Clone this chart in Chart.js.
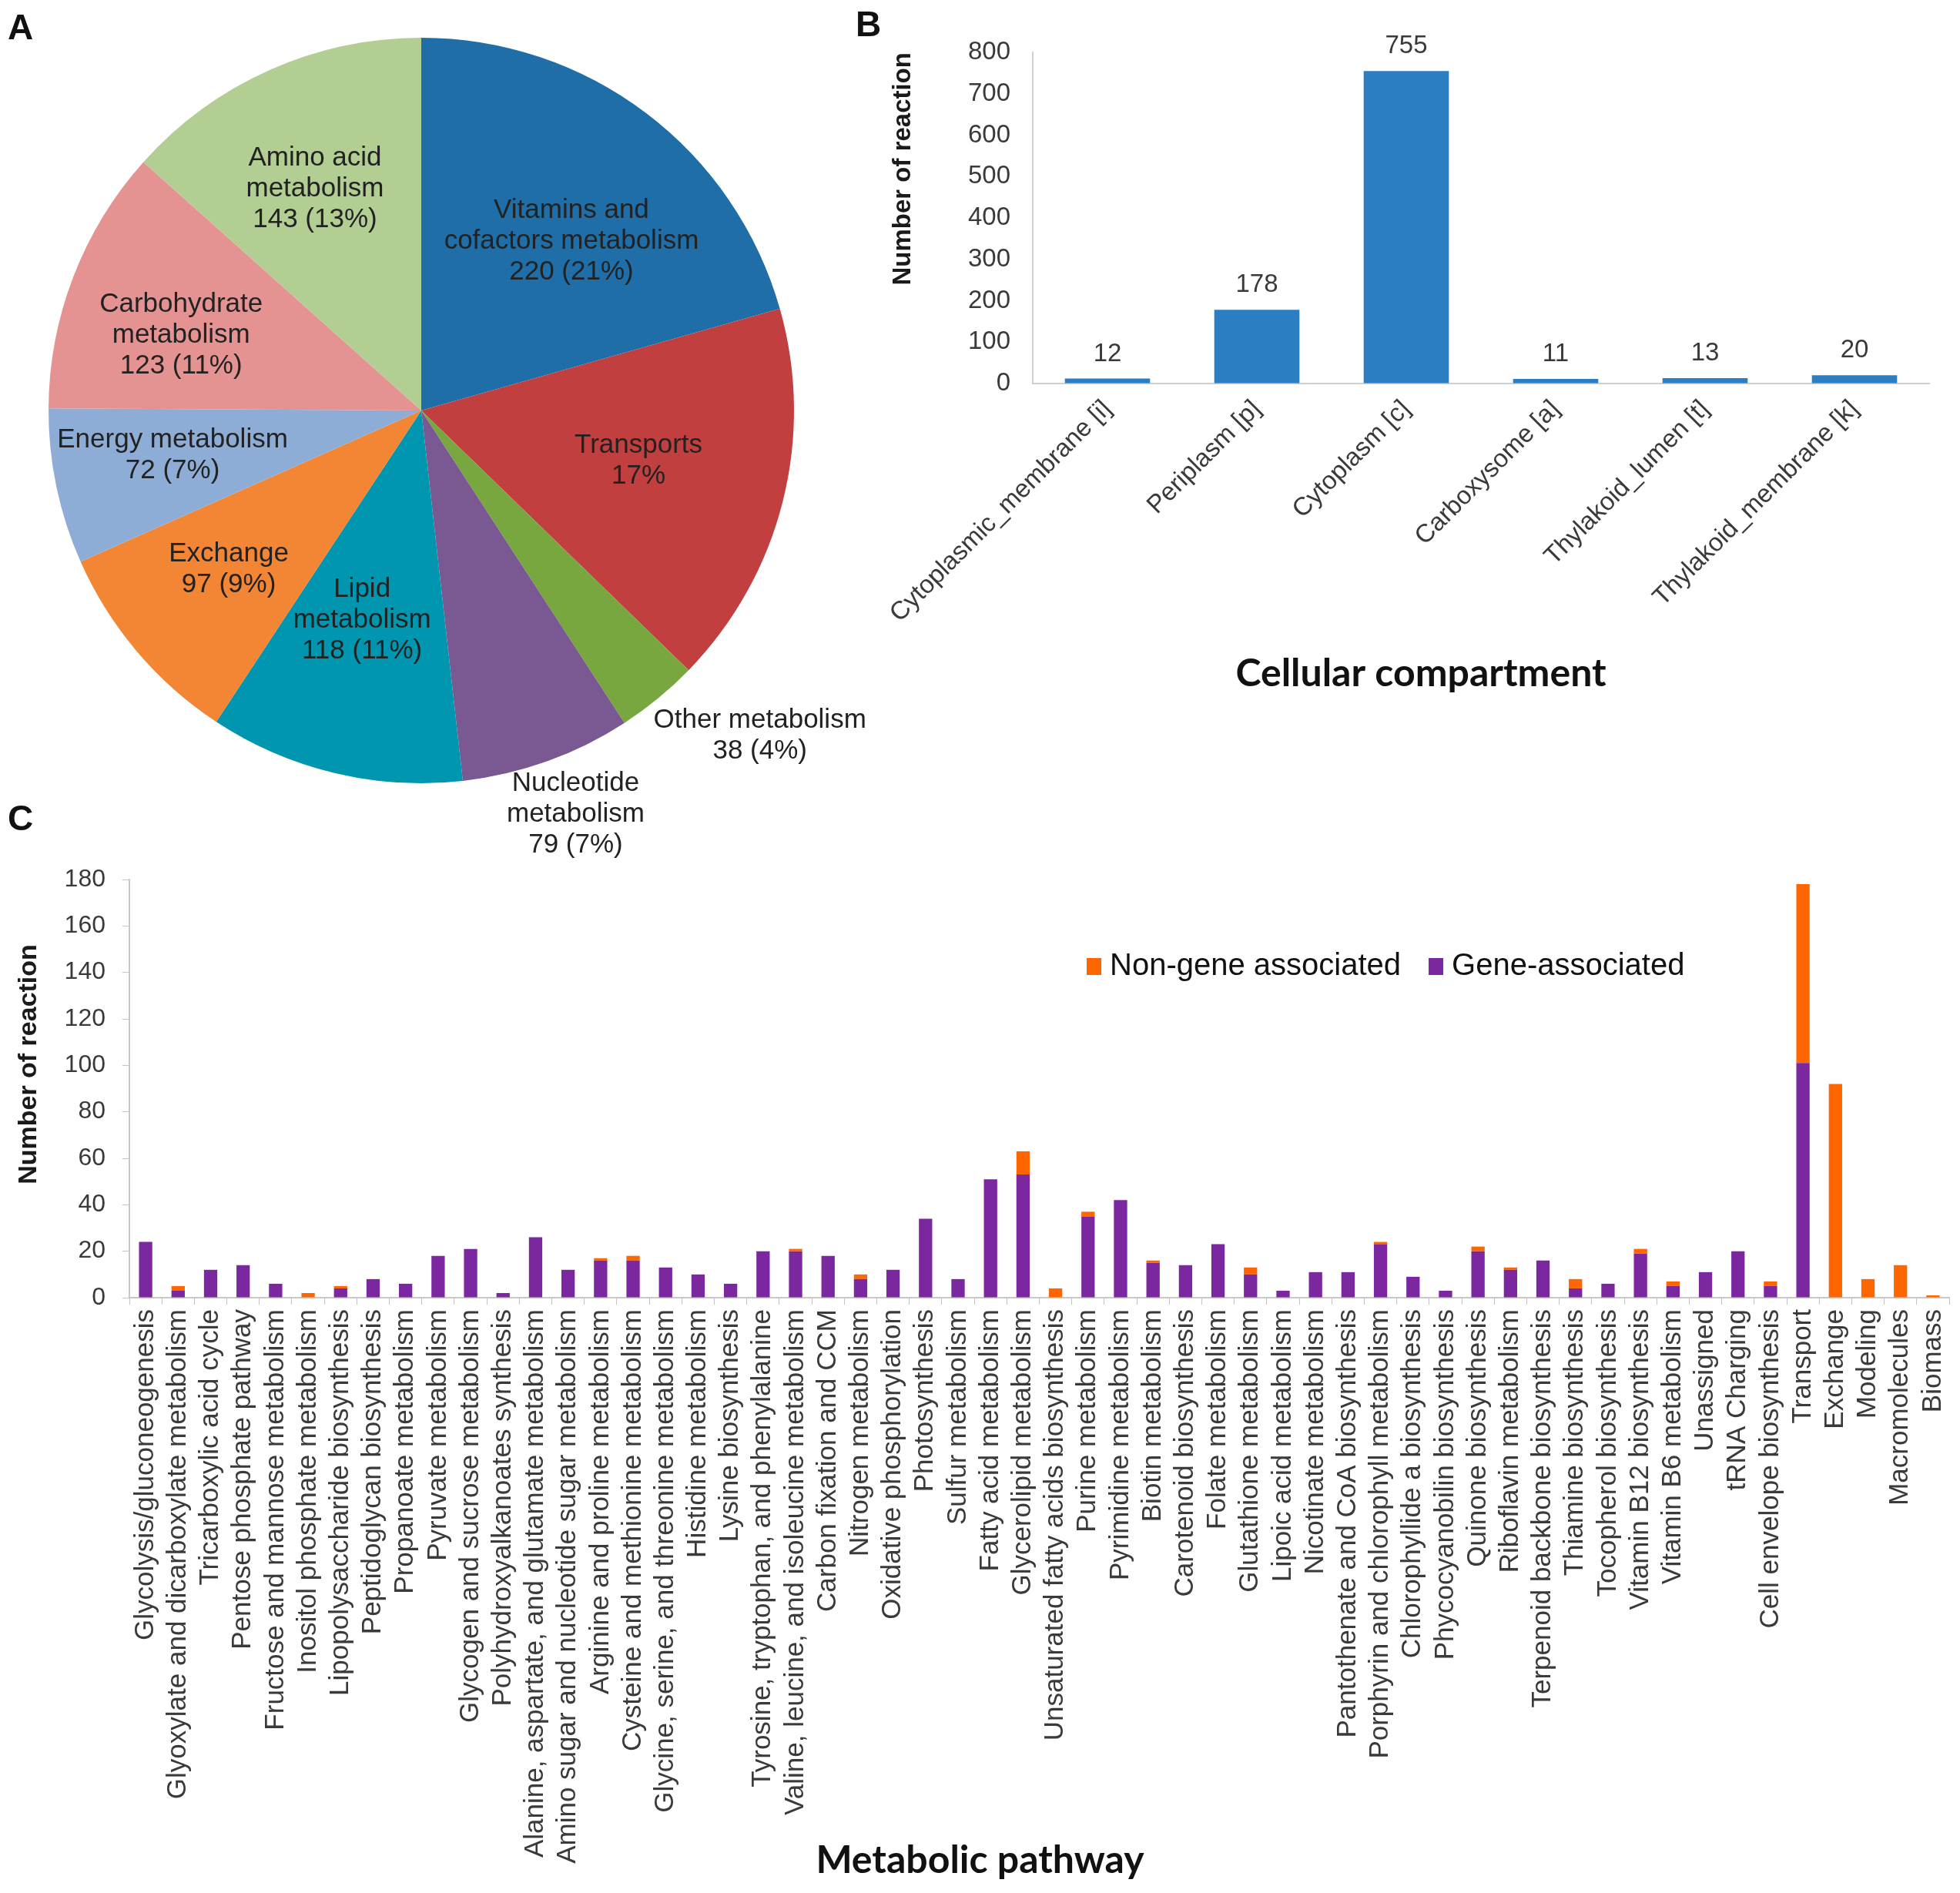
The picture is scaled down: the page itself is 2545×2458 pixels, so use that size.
<!DOCTYPE html>
<html>
<head>
<meta charset="utf-8">
<script src="https://cdn.jsdelivr.net/npm/chart.js@4.4.1/dist/chart.umd.min.js"></script>
<style>
html,body{margin:0;padding:0;background:#fff;width:2545px;height:2458px;overflow:hidden;position:relative;}
.box{position:absolute;}
.box canvas{display:block;}
.panel{position:absolute;font-family:"Liberation Sans",Arial,sans-serif;font-weight:bold;font-size:46px;line-height:46px;color:#111;}
</style>
</head>
<body>
<div class="box" style="left:0;top:0;width:1140px;height:1130px"><canvas id="pie" width="1140" height="1130"></canvas></div>
<div class="box" style="left:1136px;top:0;width:1418px;height:903px"><canvas id="comp" width="1418" height="903"></canvas></div>
<div class="box" style="left:0;top:1090px;width:2545px;height:1368px"><canvas id="path" width="2545" height="1368"></canvas></div>
<div class="panel" style="left:10px;top:12px">A</div>
<div class="panel" style="left:1111px;top:8px">B</div>
<div class="panel" style="left:10px;top:1039px">C</div>
<script>
// ---------- Panel A data ----------
const pieCategories = ['Vitamins and cofactors metabolism','Transports','Other metabolism','Nucleotide metabolism','Lipid metabolism','Exchange','Energy metabolism','Carbohydrate metabolism','Amino acid metabolism'];
const pieValues = [220, 178, 38, 79, 118, 97, 72, 123, 143];
const piePercents = [21, 17, 4, 7, 11, 9, 7, 11, 13];
const pieNameLines = [['Vitamins and','cofactors metabolism'],['Transports'],['Other metabolism'],['Nucleotide','metabolism'],['Lipid','metabolism'],['Exchange'],['Energy metabolism'],['Carbohydrate','metabolism'],['Amino acid','metabolism']];
const pieShowCount = [true, false, true, true, true, true, true, true, true];
const pieColors = ['#1f6ea8','#c13f3f','#78a73f','#7a5892','#0096b0','#f28634','#8eadd6','#e59392','#b3ce93'];
const pieLabelRadius = [0.607, 0.598, 1.26, 1.16, 0.584, 0.669, 0.678, 0.675, 0.66];
const pieLabelShift = [4.5, -1.2, -6.7, -1.2, 2.3, 0.8, 1.6, -3.7, -1.5];

// ---------- Panel B data ----------
const compartments = ['Cytoplasmic_membrane [i]','Periplasm [p]','Cytoplasm [c]','Carboxysome [a]','Thylakoid_lumen [t]','Thylakoid_membrane [k]'];
const compartmentReactions = [12, 178, 755, 11, 13, 20];
const compartmentAxisMax = 800;
const compartmentAxisStep = 100;

// ---------- Panel C data ----------
const pathways = ['Glycolysis/gluconeogenesis','Glyoxylate and dicarboxylate metabolism','Tricarboxylic acid cycle','Pentose phosphate pathway','Fructose and mannose metabolism','Inositol phosphate metabolism','Lipopolysaccharide biosynthesis','Peptidoglycan biosynthesis','Propanoate metabolism','Pyruvate metabolism','Glycogen and sucrose metabolism','Polyhydroxyalkanoates synthesis','Alanine, aspartate, and glutamate metabolism','Amino sugar and nucleotide sugar metabolism','Arginine and proline metabolism','Cysteine and methionine metabolism','Glycine, serine, and threonine metabolism','Histidine metabolism','Lysine biosynthesis','Tyrosine, tryptophan, and phenylalanine','Valine, leucine, and isoleucine metabolism','Carbon fixation and CCM','Nitrogen metabolism','Oxidative phosphorylation','Photosynthesis','Sulfur metabolism','Fatty acid metabolism','Glycerolipid metabolism','Unsaturated fatty acids biosynthesis','Purine metabolism','Pyrimidine metabolism','Biotin metabolism','Carotenoid biosynthesis','Folate metabolism','Glutathione metabolism','Lipoic acid metabolism','Nicotinate metabolism','Pantothenate and CoA biosynthesis','Porphyrin and chlorophyll metabolism','Chlorophyllide a biosynthesis','Phycocyanobilin biosynthesis','Quinone biosynthesis','Riboflavin metabolism','Terpenoid backbone biosynthesis','Thiamine biosynthesis','Tocopherol biosynthesis','Vitamin B12 biosynthesis','Vitamin B6 metabolism','Unassigned','tRNA Charging','Cell envelope biosynthesis','Transport','Exchange','Modeling','Macromolecules','Biomass'];
const geneAssociated =    [24,3,12,14,6,0,4,8,6,18,21,2,26,12,16,16,13,10,6,20,20,18,8,12,34,8,51,53,0,35,42,15,14,23,10,3,11,11,23,9,3,20,12,16,4,6,19,5,11,20,5,101,0,0,0,0];
const nonGeneAssociated = [0,2,0,0,0,2,1,0,0,0,0,0,0,0,1,2,0,0,0,0,1,0,2,0,0,0,0,10,4,2,0,1,0,0,3,0,0,0,1,0,0,2,1,0,4,0,2,2,0,0,2,77,92,8,14,1];
const pathwayAxisMax = 180;
const pathwayAxisStep = 20;

// ---------- common ----------
const SANS = '"Liberation Sans", Arial, sans-serif';
Chart.defaults.font.family = SANS;
Chart.defaults.color = '#3a3a3a';
Chart.defaults.animation = false;
Chart.defaults.plugins.tooltip.enabled = false;

// free-standing axis captions drawn on the chart canvas
const captionPlugin = {
  id: 'captions',
  afterDraw(chart, args, opts) {
    const ctx = chart.ctx;
    (opts.items || []).forEach(it => {
      ctx.save();
      ctx.font = it.font;
      ctx.fillStyle = it.color || '#111';
      ctx.textAlign = 'center';
      ctx.textBaseline = 'middle';
      ctx.translate(it.x, it.y);
      if (it.rotate) ctx.rotate(it.rotate);
      ctx.fillText(it.text, 0, 0);
      ctx.restore();
    });
  }
};

// ---------- Panel A ----------
const pieLabelPlugin = {
  id: 'pieLabels',
  afterDatasetsDraw(chart) {
    const ctx = chart.ctx;
    const meta = chart.getDatasetMeta(0);
    ctx.save();
    ctx.font = '35px ' + SANS;
    ctx.fillStyle = '#222';
    ctx.textAlign = 'center';
    ctx.textBaseline = 'middle';
    meta.data.forEach((arc, i) => {
      const p = arc.getProps(['x','y','startAngle','endAngle','outerRadius'], true);
      const a = (p.startAngle + p.endAngle) / 2 + pieLabelShift[i] * Math.PI / 180;
      const r = p.outerRadius * pieLabelRadius[i];
      const cx = p.x + r * Math.cos(a), cy = p.y + r * Math.sin(a);
      const lines = pieNameLines[i].slice();
      lines.push(pieShowCount[i] ? pieValues[i] + ' (' + piePercents[i] + '%)' : piePercents[i] + '%');
      const lh = 40;
      lines.forEach((t, j) => ctx.fillText(t, cx, cy + (j - (lines.length - 1) / 2) * lh));
    });
    ctx.restore();
  }
};
new Chart(document.getElementById('pie'), {
  type: 'pie',
  data: { labels: pieCategories, datasets: [{ data: pieValues, backgroundColor: pieColors, borderWidth: 0 }] },
  options: {
    responsive: false,
    layout: { padding: { left: 63, top: 49, right: 109, bottom: 113 } },
    plugins: { legend: { display: false } }
  },
  plugins: [pieLabelPlugin]
});

// ---------- Panel B ----------
const barValuePlugin = {
  id: 'barValues',
  afterDatasetsDraw(chart) {
    const ctx = chart.ctx;
    const meta = chart.getDatasetMeta(0);
    ctx.save();
    ctx.font = '33px ' + SANS;
    ctx.fillStyle = '#3a3a3a';
    ctx.textAlign = 'center';
    ctx.textBaseline = 'middle';
    meta.data.forEach((bar, i) => ctx.fillText(String(compartmentReactions[i]), bar.x, bar.y - 32));
    ctx.restore();
  }
};
new Chart(document.getElementById('comp'), {
  type: 'bar',
  data: { labels: compartments, datasets: [{ data: compartmentReactions, backgroundColor: '#2b7ec1', categoryPercentage: 1, barPercentage: 0.57 }] },
  options: {
    responsive: false,
    layout: { padding: { left: 0, top: 68, right: 49, bottom: 0 } },
    plugins: {
      legend: { display: false },
      captions: { items: [{ text: 'Cellular compartment', font: 'bold 50px Lato, sans-serif', x: 709, y: 875 }] }
    },
    scales: {
      x: {
        grid: { display: true, drawOnChartArea: false, drawTicks: false, color: '#d0d0d0' },
        border: { display: true, color: '#d0d0d0', width: 2 },
        ticks: { autoSkip: false, minRotation: 45, maxRotation: 45, font: { size: 33 }, color: '#3a3a3a', padding: 14 },
        afterFit: s => { s.height = 903 - 498; s.paddingLeft = 0; s.paddingRight = 0; }
      },
      y: {
        min: 0, max: compartmentAxisMax,
        ticks: { stepSize: compartmentAxisStep, font: { size: 33 }, color: '#3a3a3a', padding: 29 },
        grid: { display: true, drawOnChartArea: false, drawTicks: false, color: '#d0d0d0' },
        border: { display: true, color: '#d0d0d0', width: 2 },
        title: { display: true, text: 'Number of reaction', align: 'end', color: '#1a1a1a',
                 font: { size: 33, weight: 'bold' }, padding: { top: 17, bottom: 0 } },
        afterFit: s => { s.width = 205; }
      }
    }
  },
  plugins: [barValuePlugin, captionPlugin]
});

// ---------- Panel C ----------
const innerLegendPlugin = {
  id: 'innerLegend',
  afterDraw(chart) {
    const ctx = chart.ctx;
    const items = chart.data.datasets.slice().reverse();
    ctx.save();
    ctx.font = '40px ' + SANS;
    ctx.textBaseline = 'alphabetic';
    ctx.textAlign = 'left';
    let x = 1411;
    const base = 176;
    items.forEach(ds => {
      ctx.fillStyle = ds.backgroundColor;
      ctx.fillRect(x, 154, 19, 22);
      ctx.fillStyle = '#111';
      ctx.fillText(ds.label, x + 30, base);
      x += 30 + ctx.measureText(ds.label).width + 36;
    });
    ctx.restore();
  }
};
new Chart(document.getElementById('path'), {
  type: 'bar',
  data: {
    labels: pathways,
    datasets: [
      { label: 'Gene-associated', data: geneAssociated, backgroundColor: '#7b28a0', categoryPercentage: 1, barPercentage: 0.41 },
      { label: 'Non-gene associated', data: nonGeneAssociated, backgroundColor: '#ff6600', categoryPercentage: 1, barPercentage: 0.41 }
    ]
  },
  options: {
    responsive: false,
    layout: { padding: { left: 0, top: 52, right: 14, bottom: 0 } },
    plugins: {
      legend: { display: false },
      captions: { items: [
        { text: 'Metabolic pathway', font: 'bold 50px Lato, sans-serif', x: 1272.5, y: 1326 },
        { text: 'Number of reaction', font: 'bold 34px ' + SANS, color: '#1a1a1a', x: 38, y: 292, rotate: -Math.PI / 2 }
      ] }
    },
    scales: {
      x: {
        stacked: true,
        grid: { display: true, drawOnChartArea: false, drawTicks: true, tickLength: 9, color: '#c4c4c4', offset: true },
        border: { display: true, color: '#c8c8c8', width: 2 },
        ticks: { autoSkip: false, minRotation: 90, maxRotation: 90, font: { size: 35 }, color: '#3a3a3a', padding: 6 },
        afterFit: s => { s.height = 1368 - 595; s.paddingLeft = 0; s.paddingRight = 0; }
      },
      y: {
        stacked: true, min: 0, max: pathwayAxisMax,
        ticks: { stepSize: pathwayAxisStep, font: { size: 32 }, color: '#3a3a3a', padding: 22 },
        grid: { display: true, drawOnChartArea: false, drawTicks: true, tickLength: 9, color: '#c4c4c4' },
        border: { display: true, color: '#c8c8c8', width: 2 },
        afterFit: s => { s.width = 168; }
      }
    }
  },
  plugins: [innerLegendPlugin, captionPlugin]
});
</script>
</body>
</html>
